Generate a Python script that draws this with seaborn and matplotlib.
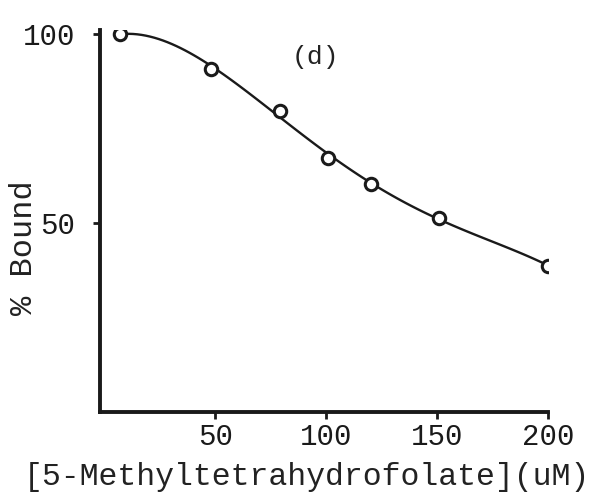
import numpy as np
import pandas as pd
import matplotlib
matplotlib.use("Agg")
import matplotlib.pyplot as plt
import seaborn as sns

# Data
conc = [7, 48, 79, 101, 120, 151, 200]          # [5-Methyltetrahydrofolate] (uM)
bound = [100, 90.8, 79.7, 67.1, 60.3, 51.3, 38.7]  # % Bound
x_ticks = [50, 100, 150, 200]
y_ticks = [50, 100]

df = pd.DataFrame({"conc": conc, "bound": bound})

sns.set_style("ticks")
plt.rcParams["font.family"] = ["Liberation Mono", "DejaVu Sans Mono"]

fig = plt.figure(figsize=(6.04, 4.99), dpi=100)
ax = fig.add_axes([0.1656, 0.1743, 0.7417, 0.7655])

# smooth curve (polynomial fit) + open circles
sns.regplot(data=df, x="conc", y="bound", order=4, ci=None, scatter=False,
            line_kws={"color": "#1a1a1a", "linewidth": 1.7}, ax=ax)
sns.scatterplot(data=df, x="conc", y="bound", marker="o", s=80,
                facecolor="white", edgecolor="#1a1a1a", linewidth=2.2,
                zorder=5, ax=ax)

ax.set_xlim(-2, 200)
ax.set_ylim(0, 101)
ax.set_xticks(x_ticks)
ax.set_yticks(y_ticks)
ax.tick_params(axis="both", labelsize=21, colors="#1a1a1a", length=5,
               width=2, direction="out")
ax.tick_params(axis="y", pad=13)
ax.tick_params(axis="x", pad=3)
for s in ["left", "bottom"]:
    ax.spines[s].set_linewidth(2.8)
    ax.spines[s].set_color("#1a1a1a")
sns.despine(ax=ax)

ax.set_xlabel("[5-Methyltetrahydrofolate](uM)", fontsize=22.7, color="#222222")
ax.set_ylabel("% Bound", fontsize=23, color="#222222")
ax.xaxis.set_label_coords(0.461, -0.13)
ax.yaxis.set_label_coords(-0.137, 0.43)

ax.text(0.48, 0.93, "(d)", transform=ax.transAxes, fontsize=19,
        color="#222222", ha="center", va="center")

fig.savefig("out.png", dpi=100, facecolor="white")
